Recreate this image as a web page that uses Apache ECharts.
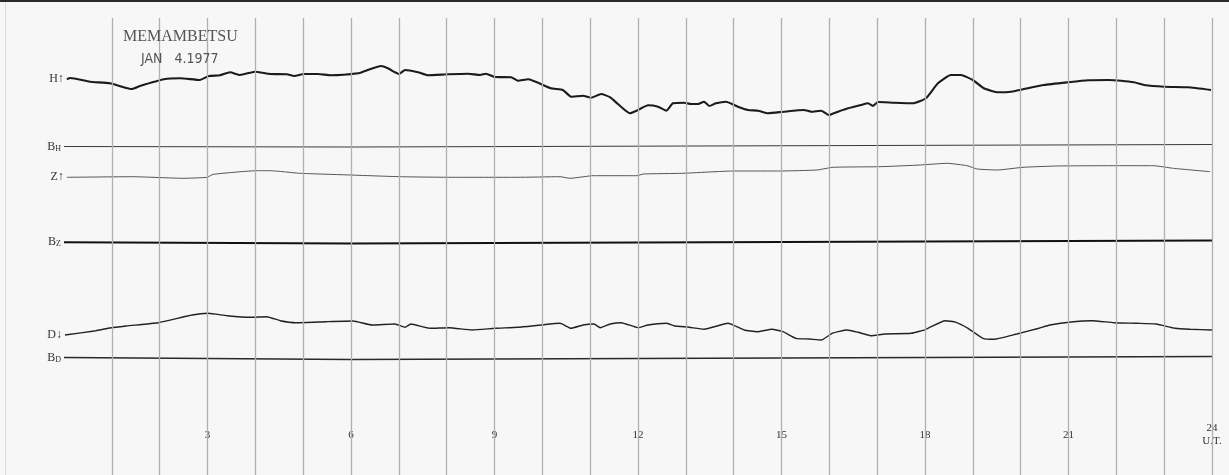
<!DOCTYPE html>
<html>
<head>
<meta charset="utf-8">
<script src="https://cdn.jsdelivr.net/npm/echarts@6/dist/echarts.min.js"></script>
<style>
html,body{margin:0;padding:0;background:#f7f7f7;}
#c{width:1229px;height:475px;}
</style>
</head>
<body>
<div id="c"></div>
<script>
// ---- data (x = hour U.T., y = trace position on the record) ----
var stationName = 'MEMAMBETSU';
var recordDate = 'JAN   4.1977';
var hourLines = [1,2,3,4,5,6,7,8,9,10,11,12,13,14,15,16,17,18,19,20,21,22,23,24];
var hourLabels = [3,6,9,12,15,18,21,24];

var traceH = [[0.06,79.3],[0.13,78],[0.54,81.7],[0.96,83.3],[1.28,87.7],[1.42,89],[1.59,86],[2.09,79.3],[2.43,78.3],[2.84,80],[3.03,76],[3.26,75.3],[3.47,72.3],[3.68,75],[3.99,71.7],[4.31,74],[4.66,74.3],[4.81,76],[5.02,74],[5.31,74],[5.58,75.3],[6.15,73.3],[6.29,71],[6.63,66],[6.77,68.3],[6.92,72.3],[7.0,74],[7.13,70],[7.4,72.3],[7.61,75.3],[8.03,74.3],[8.45,73.7],[8.7,75],[8.82,73.7],[9.01,77],[9.35,77.3],[9.49,80.7],[9.7,79.3],[10.18,88.3],[10.43,90],[10.6,96.7],[10.85,95.7],[11.02,97.7],[11.23,94],[11.42,97.3],[11.58,104],[11.83,113.3],[12.0,110],[12.21,105.3],[12.42,106.7],[12.59,110.7],[12.73,103.3],[12.96,102.7],[13.11,104],[13.26,104],[13.38,101.7],[13.49,106],[13.63,103.3],[13.84,101.7],[14.09,106.7],[14.3,110],[14.51,110.7],[14.72,113.3],[15.05,111.7],[15.47,110],[15.62,111.7],[15.83,110.7],[15.99,115],[16.18,111.7],[16.39,108.3],[16.66,105],[16.81,103.3],[16.91,106],[17.02,102],[17.35,102.7],[17.75,103.3],[18.02,98.3],[18.27,83.3],[18.54,75],[18.75,75],[19.0,80],[19.23,88.3],[19.53,92.3],[19.8,91.7],[20.07,89],[20.49,85],[20.99,82.3],[21.41,80.3],[21.83,80],[22.1,80.7],[22.37,82.3],[22.58,85],[23.0,86.7],[23.5,87.3],[23.98,90]];

var traceZ = [[0.06,177.3],[1.44,176.7],[2.49,178.3],[2.99,177.3],[3.12,174.3],[4.04,170.7],[4.31,170.7],[4.58,171.7],[4.93,173.3],[5.98,175],[7.02,176.7],[8.07,177.3],[9.47,177.3],[10.37,176.7],[10.58,178.3],[11.06,175.7],[11.98,175.7],[12.11,174],[12.94,173.3],[13.99,171],[14.97,171],[15.74,170],[16.08,167.3],[17.06,166.7],[17.9,165],[18.46,163.3],[18.88,165.7],[19.09,169],[19.51,170],[20.05,167.3],[20.76,166],[21.81,165.7],[22.77,165.7],[23.19,168.3],[23.96,171.7]];

var traceD = [[0.02,335],[0.67,330.7],[0.92,328.3],[1.3,326],[1.97,322.7],[2.68,315],[3.01,313.3],[3.41,315.7],[3.89,317.3],[4.24,316.7],[4.52,320.7],[4.85,322.7],[5.48,321.7],[6.04,321],[6.44,325],[6.92,324],[7.13,327.3],[7.25,324],[7.65,328.3],[8.05,327.7],[8.53,330],[9.01,328.3],[9.49,327.3],[9.97,325],[10.37,323.3],[10.6,328.3],[10.85,325],[11.08,324],[11.21,327.7],[11.42,324],[11.65,322.7],[12.0,327.7],[12.21,325],[12.59,323.3],[12.75,325.7],[13.07,327.3],[13.38,329.3],[13.88,323.3],[14.22,330],[14.49,331.7],[14.8,329.3],[15.03,331.7],[15.3,338.3],[15.58,339],[15.83,340],[16.06,333.3],[16.37,330],[16.6,332.3],[16.87,335.7],[17.16,334],[17.71,333.3],[18.02,329.3],[18.42,320.7],[18.65,322.3],[18.9,328.3],[19.21,338.3],[19.44,339.3],[19.92,334],[20.38,328.3],[20.61,325],[21.1,321.7],[21.49,320.7],[21.95,322.7],[22.43,323.3],[22.83,324],[23.23,328.3],[23.54,329.3],[24.0,330]];

var baseH = [[0,146.5],[6,147],[24,144.5]];
var baseZ = [[0,242.3],[6,243.5],[24,240.5]];
var baseD = [[0,357.5],[6,359.5],[24,356.5]];

var traceNames = ['H↑','Z↑','D↓'];
var baseNames = ['B{s|H}','B{s|Z}','B{s|D}'];

// ---- chart ----
var serif = '"Liberation Serif","DejaVu Serif",serif';
var narrow = '"Liberation Sans Narrow","DejaVu Sans Condensed","Liberation Sans",sans-serif';

function startLabel(data, text){
  return {
    symbol: 'circle', symbolSize: 0,
    silent: true,
    data: [{coord: data[0]}],
    label: {
      show: true, position: 'left', distance: 3,
      formatter: text,
      fontFamily: serif, fontSize: 12, color: '#333',
      rich: { s: { fontFamily: serif, fontSize: 8, color: '#333', verticalAlign: 'bottom', padding: [4,0,0,0] } }
    }
  };
}

function lineSeries(name, data, color, width, text){
  return {
    name: name, type: 'line', data: data,
    showSymbol: false, symbol: 'none', smooth: 0.15,
    lineStyle: { color: color, width: width },
    silent: true,
    markPoint: startLabel(data, text)
  };
}

var series = [
  lineSeries('H', traceH, '#1b1b1b', 2.1, traceNames[0]),
  lineSeries('BH', baseH, '#3a3a3a', 1, baseNames[0]),
  lineSeries('Z', traceZ, '#555', 1, traceNames[1]),
  lineSeries('BZ', baseZ, '#111', 2, baseNames[1]),
  lineSeries('D', traceD, '#222', 1.4, traceNames[2]),
  lineSeries('BD', baseD, '#2a2a2a', 1.3, baseNames[2])
];
series[1].smooth = false; series[3].smooth = false; series[5].smooth = false;

// hour lines
series.push({
  type: 'line', data: [], silent: true,
  markLine: {
    silent: true, symbol: ['none','none'], animation: false,
    label: { show: false },
    lineStyle: { color: '#b0b0b0', width: 1.3, type: 'solid' },
    data: hourLines.map(function(h){ return { xAxis: h }; })
  }
});

var chart = echarts.init(document.getElementById('c'), null, {renderer: 'canvas'});
chart.setOption({
  backgroundColor: '#f7f7f7',
  animation: false,
  title: [
    { text: stationName, left: 118, top: 24, textStyle: { fontFamily: serif, fontSize: 16, fontWeight: 'normal', color: '#555' } },
    { text: recordDate, left: 136, top: 47, textStyle: { fontFamily: narrow, fontSize: 14, fontWeight: 'normal', color: '#555' } }
  ],
  grid: { left: 64, right: 17, top: 18, bottom: 0 },
  xAxis: {
    type: 'value', min: 0, max: 24, interval: 3,
    axisLine: { show: false }, axisTick: { show: false }, splitLine: { show: false },
    axisLabel: {
      inside: true, margin: 40, verticalAlign: 'middle',
      fontFamily: serif, fontSize: 11, color: '#333', lineHeight: 13,
      showMinLabel: false, showMaxLabel: true,
      formatter: function(v){
        if (hourLabels.indexOf(v) < 0) return '';
        return v === 24 ? v + '\nU.T.' : String(v);
      }
    }
  },
  yAxis: {
    type: 'value', inverse: true, min: 18, max: 475,
    axisLine: { show: false }, axisTick: { show: false }, splitLine: { show: false }, axisLabel: { show: false }
  },
  graphic: [
    { type: 'rect', left: 0, top: 0, shape: { width: 1229, height: 2 }, style: { fill: '#2a2a2a' }, silent: true },
    { type: 'rect', left: 5, top: 2, shape: { width: 1, height: 473 }, style: { fill: '#dcdcdc' }, silent: true }
  ],
  series: series
});
</script>
</body>
</html>
